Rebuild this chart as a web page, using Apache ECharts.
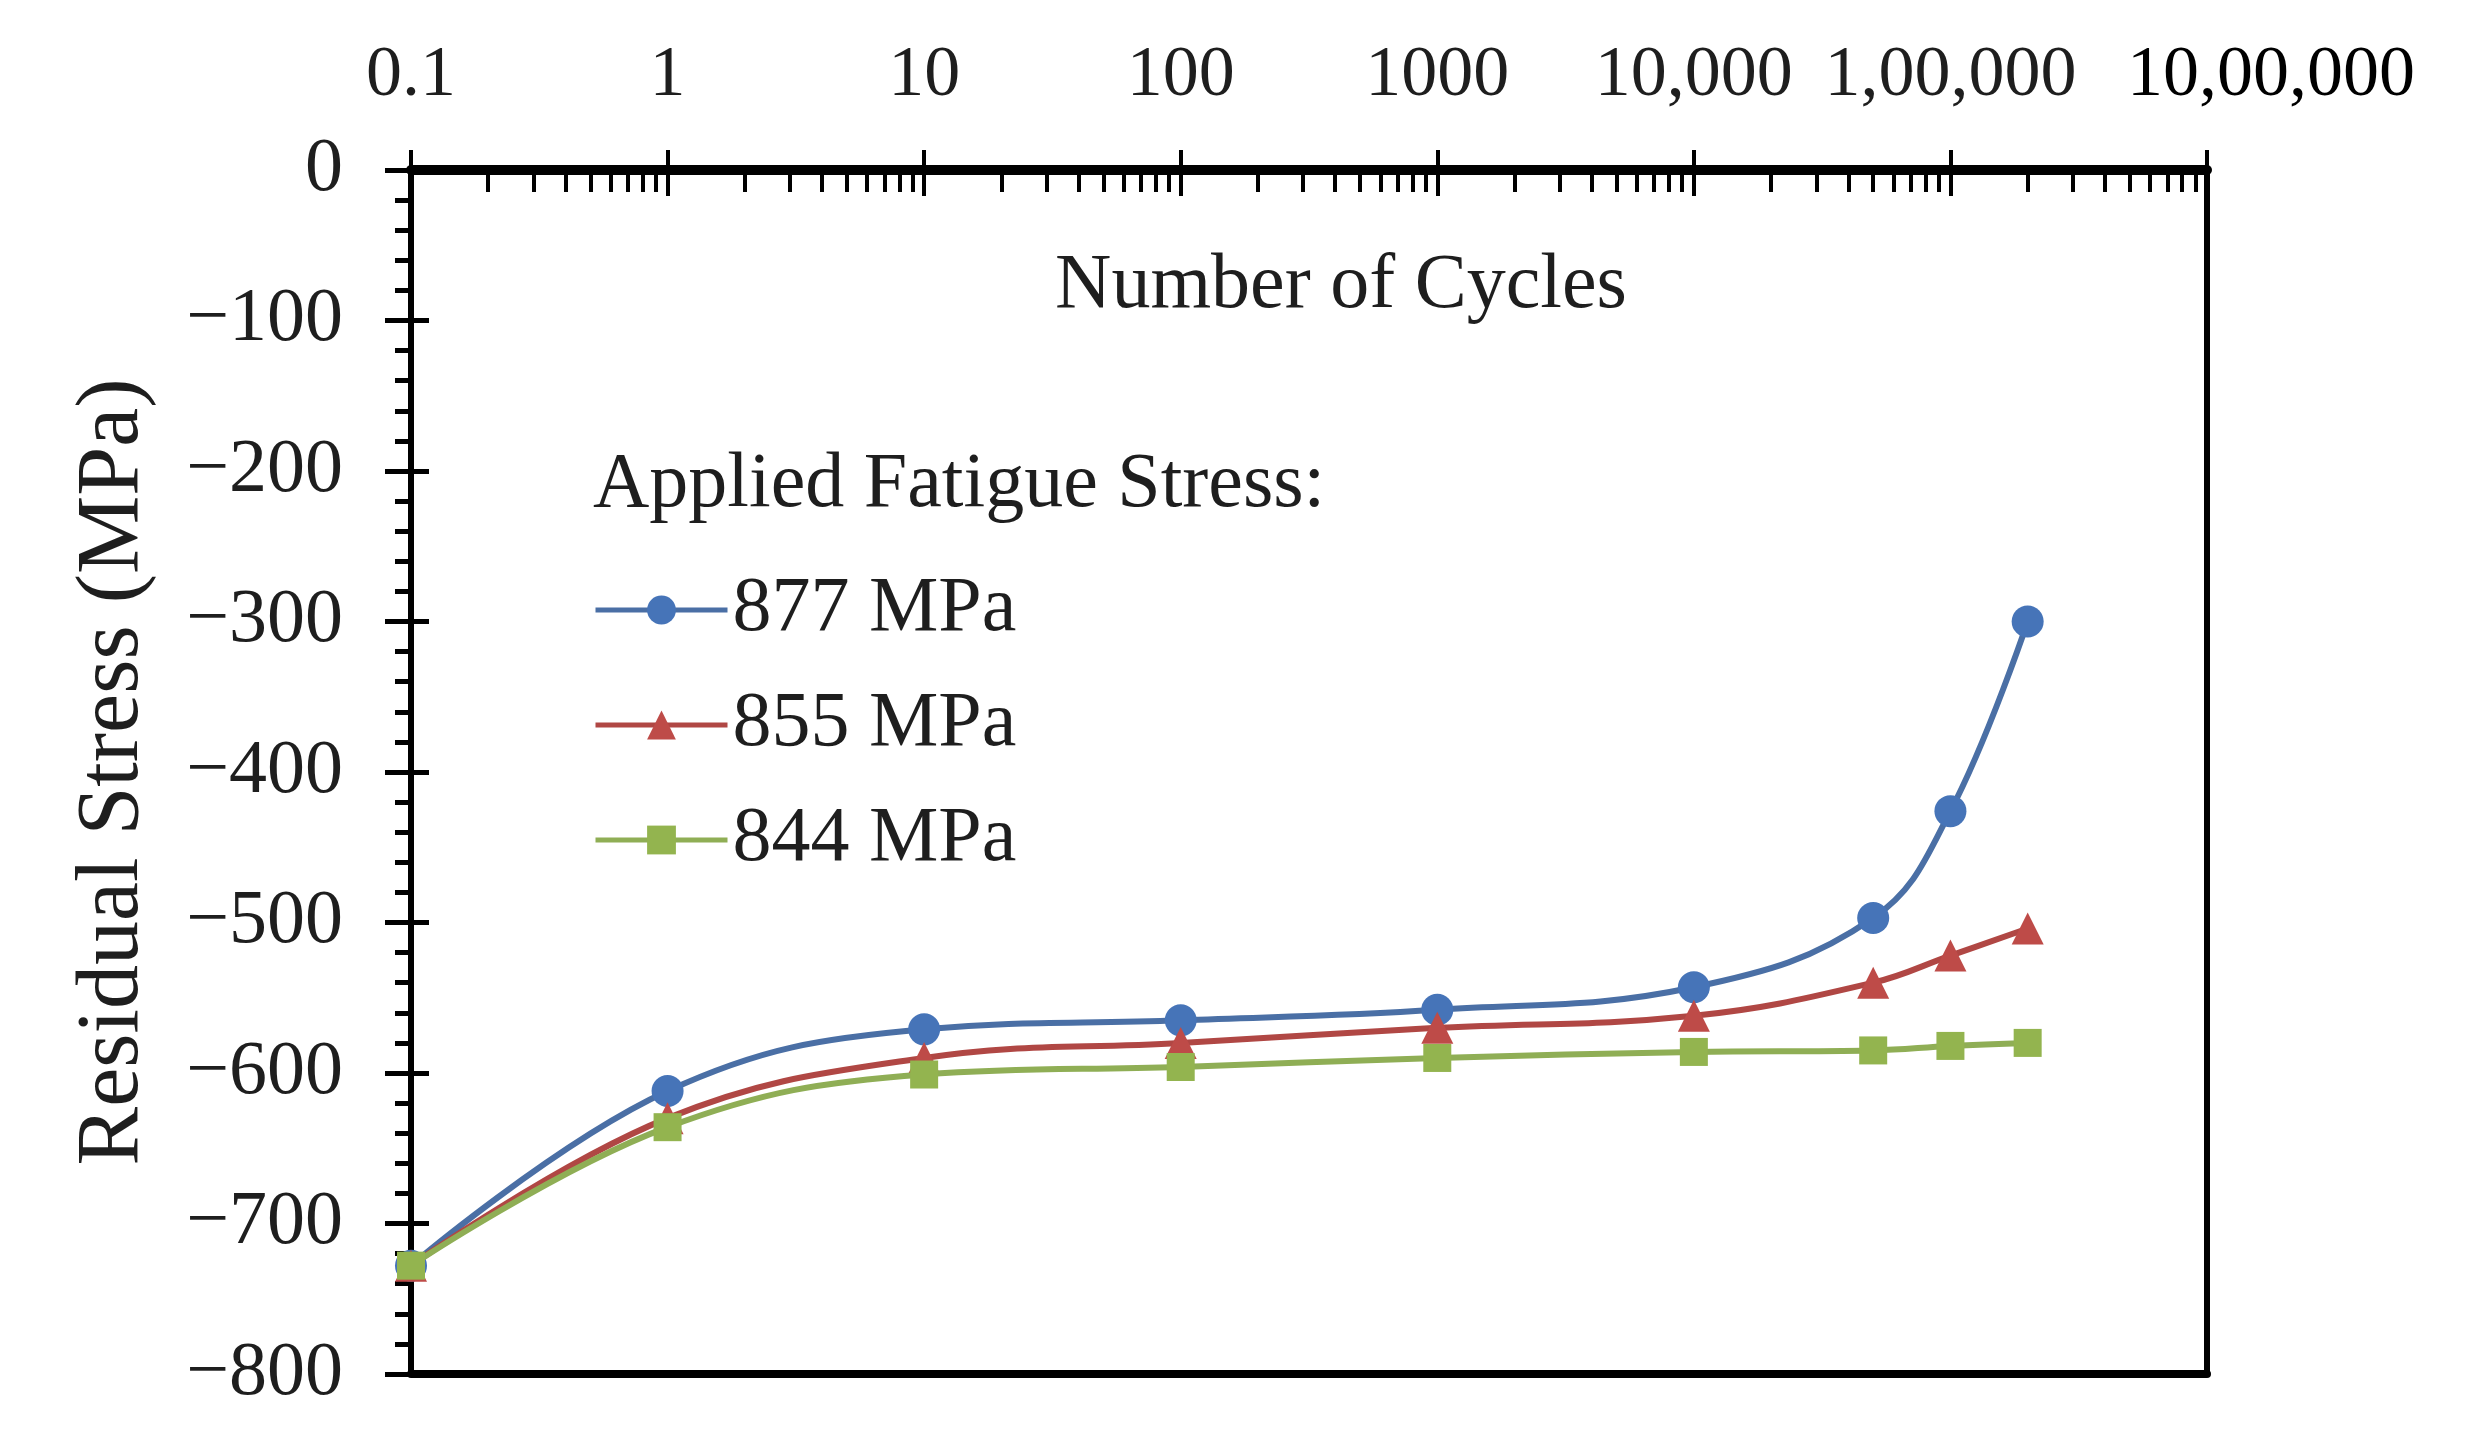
<!DOCTYPE html>
<html><head><meta charset="utf-8">
<script src="https://cdn.jsdelivr.net/npm/echarts@6/dist/echarts.min.js"></script>
<style>html,body{margin:0;padding:0;background:#fff}#c{width:2491px;height:1455px}</style>
</head><body><div id="c"></div>
<script>
// ---- data ----
const cycles = [0.1, 1, 10, 100, 1000, 10000, 50000, 100000, 200000];
const stress877 = [-728, -612, -571, -565, -558, -543, -497, -426, -300];
const stress855 = [-728, -630, -590, -580, -570, -562, -540, -522, -504];
const stress844 = [-728, -636, -601, -596, -590, -586, -585, -582, -580];
const seriesNames = ['877 MPa', '855 MPa', '844 MPa'];
const xTickValues = [0.1, 1, 10, 100, 1000, 10000, 100000, 1000000];
const xTickLabels = ['0.1', '1', '10', '100', '1000', '10,000', '1,00,000', '10,00,000'];
const yTickValues = [0, -100, -200, -300, -400, -500, -600, -700, -800];
const yTickLabels = ['0', '\u2212100', '\u2212200', '\u2212300', '\u2212400', '\u2212500', '\u2212600', '\u2212700', '\u2212800'];

// minor tick positions (2..9 within each decade)
const xMinorTicks = [];
for (let i = 0; i < xTickValues.length - 1; i++) {
  for (let k = 2; k <= 9; k++) xMinorTicks.push(k * xTickValues[i]);
}

const FONT = "'Liberation Serif', 'Times New Roman', serif";
const TXT = '#1e1e1e';
const colors = ['#4674B8', '#BE4B48', '#93B44F'];
const lineColors = ['#4A6FA5', '#B04744', '#8FAE55'];
const symbols = ['circle', 'triangle', 'rect'];
const symbolSizes = [32, 32, 28];
const seriesData = [stress877, stress855, stress844];

function xLabel(v) {
  const idx = xTickValues.findIndex(t => Math.abs(Math.log10(t) - Math.log10(v)) < 1e-6);
  if (idx < 0) return '';
  if (idx === xTickValues.length - 1) return '{last|' + xTickLabels[idx] + '}';
  return xTickLabels[idx];
}
function yLabel(v) {
  const idx = yTickValues.indexOf(v);
  return idx < 0 ? '' : yTickLabels[idx];
}

const logBase = { type: 'log', logBase: 10, min: 0.1, max: 1000000, gridIndex: 0 };

const option = {
  backgroundColor: '#ffffff',
  animation: false,
  textStyle: { fontFamily: FONT },
  title: [{
    text: 'Applied Fatigue Stress:',
    left: 588, top: 442,
    textStyle: { fontFamily: FONT, fontSize: 78, fontWeight: 'normal', color: TXT }
  }],
  legend: {
    data: seriesNames,
    orient: 'vertical',
    left: 588, top: 566,
    itemWidth: 132, itemHeight: 36, itemGap: 37,
    lineStyle: { width: 5 },
    textStyle: { fontFamily: FONT, fontSize: 78, lineHeight: 78, color: TXT }
  },
  grid: { left: 411, right: 284, top: 170, bottom: 81, outerBoundsMode: 'none', containLabel: false },
  xAxis: [
    Object.assign({}, logBase, {
      position: 'top',
      name: 'Number of Cycles',
      nameLocation: 'middle',
      nameGap: -156,
      nameTextStyle: { fontFamily: FONT, fontSize: 78, color: TXT, padding: [0, 0, 0, 64] },
      axisLine: { show: true, lineStyle: { color: '#000', width: 10 } },
      axisTick: { show: true, inside: true, length: 26, customValues: xTickValues, lineStyle: { color: '#000', width: 4 } },
      axisLabel: {
        show: true, customValues: xTickValues, margin: 58,
        fontFamily: FONT, fontSize: 72, color: TXT,
        formatter: xLabel,
        rich: { last: { fontFamily: FONT, fontSize: 72, color: '#000', padding: [0, 0, 0, 128] } }
      },
      splitLine: { show: false }, minorTick: { show: false }
    }),
    Object.assign({}, logBase, {
      position: 'top',
      axisLine: { show: false },
      axisTick: { show: true, inside: false, length: 20, customValues: xTickValues, lineStyle: { color: '#000', width: 4 } },
      axisLabel: { show: false }, splitLine: { show: false }
    }),
    Object.assign({}, logBase, {
      position: 'top',
      axisLine: { show: false },
      axisTick: { show: true, inside: true, length: 22, customValues: xMinorTicks, lineStyle: { color: '#000', width: 4 } },
      axisLabel: { show: false }, splitLine: { show: false }
    }),
    Object.assign({}, logBase, {
      position: 'bottom',
      axisLine: { show: true, lineStyle: { color: '#000', width: 8 } },
      axisTick: { show: false }, axisLabel: { show: false }, splitLine: { show: false }
    })
  ],
  yAxis: [
    {
      type: 'value', min: -800, max: 0, interval: 100, position: 'left',
      name: 'Residual Stress (MPa)', nameLocation: 'middle', nameGap: 253,
      nameTextStyle: { fontFamily: FONT, fontSize: 88, color: TXT },
      axisLine: { show: true, lineStyle: { color: '#000', width: 6 } },
      axisTick: { show: true, inside: false, length: 26, lineStyle: { color: '#000', width: 5 } },
      minorTick: { show: true, splitNumber: 5, length: 16, lineStyle: { color: '#000', width: 5 } },
      axisLabel: { margin: 68, fontFamily: FONT, fontSize: 76, color: TXT, formatter: yLabel },
      splitLine: { show: false }
    },
    {
      type: 'value', min: -800, max: 0, interval: 100, position: 'left',
      axisLine: { show: false },
      axisTick: { show: true, inside: true, length: 18, lineStyle: { color: '#000', width: 5 } },
      axisLabel: { show: false }, splitLine: { show: false }
    },
    {
      type: 'value', min: -800, max: 0, interval: 100, position: 'right',
      axisLine: { show: true, lineStyle: { color: '#000', width: 6 } },
      axisTick: { show: false }, axisLabel: { show: false }, splitLine: { show: false }
    }
  ],
  series: seriesNames.map((name, i) => ({
    name: name,
    type: 'line',
    xAxisIndex: 0, yAxisIndex: 0,
    smooth: 0.4,
    data: cycles.map((c, j) => [c, seriesData[i][j]]),
    symbol: symbols[i],
    symbolSize: symbolSizes[i],
    showAllSymbol: true,
    clip: false,
    itemStyle: { color: colors[i] },
    lineStyle: { color: lineColors[i], width: 6 },
    z: 3 + i
  }))
};

const chart = echarts.init(document.getElementById('c'), null, { renderer: 'canvas' });
chart.setOption(option);
</script>
</body></html>
